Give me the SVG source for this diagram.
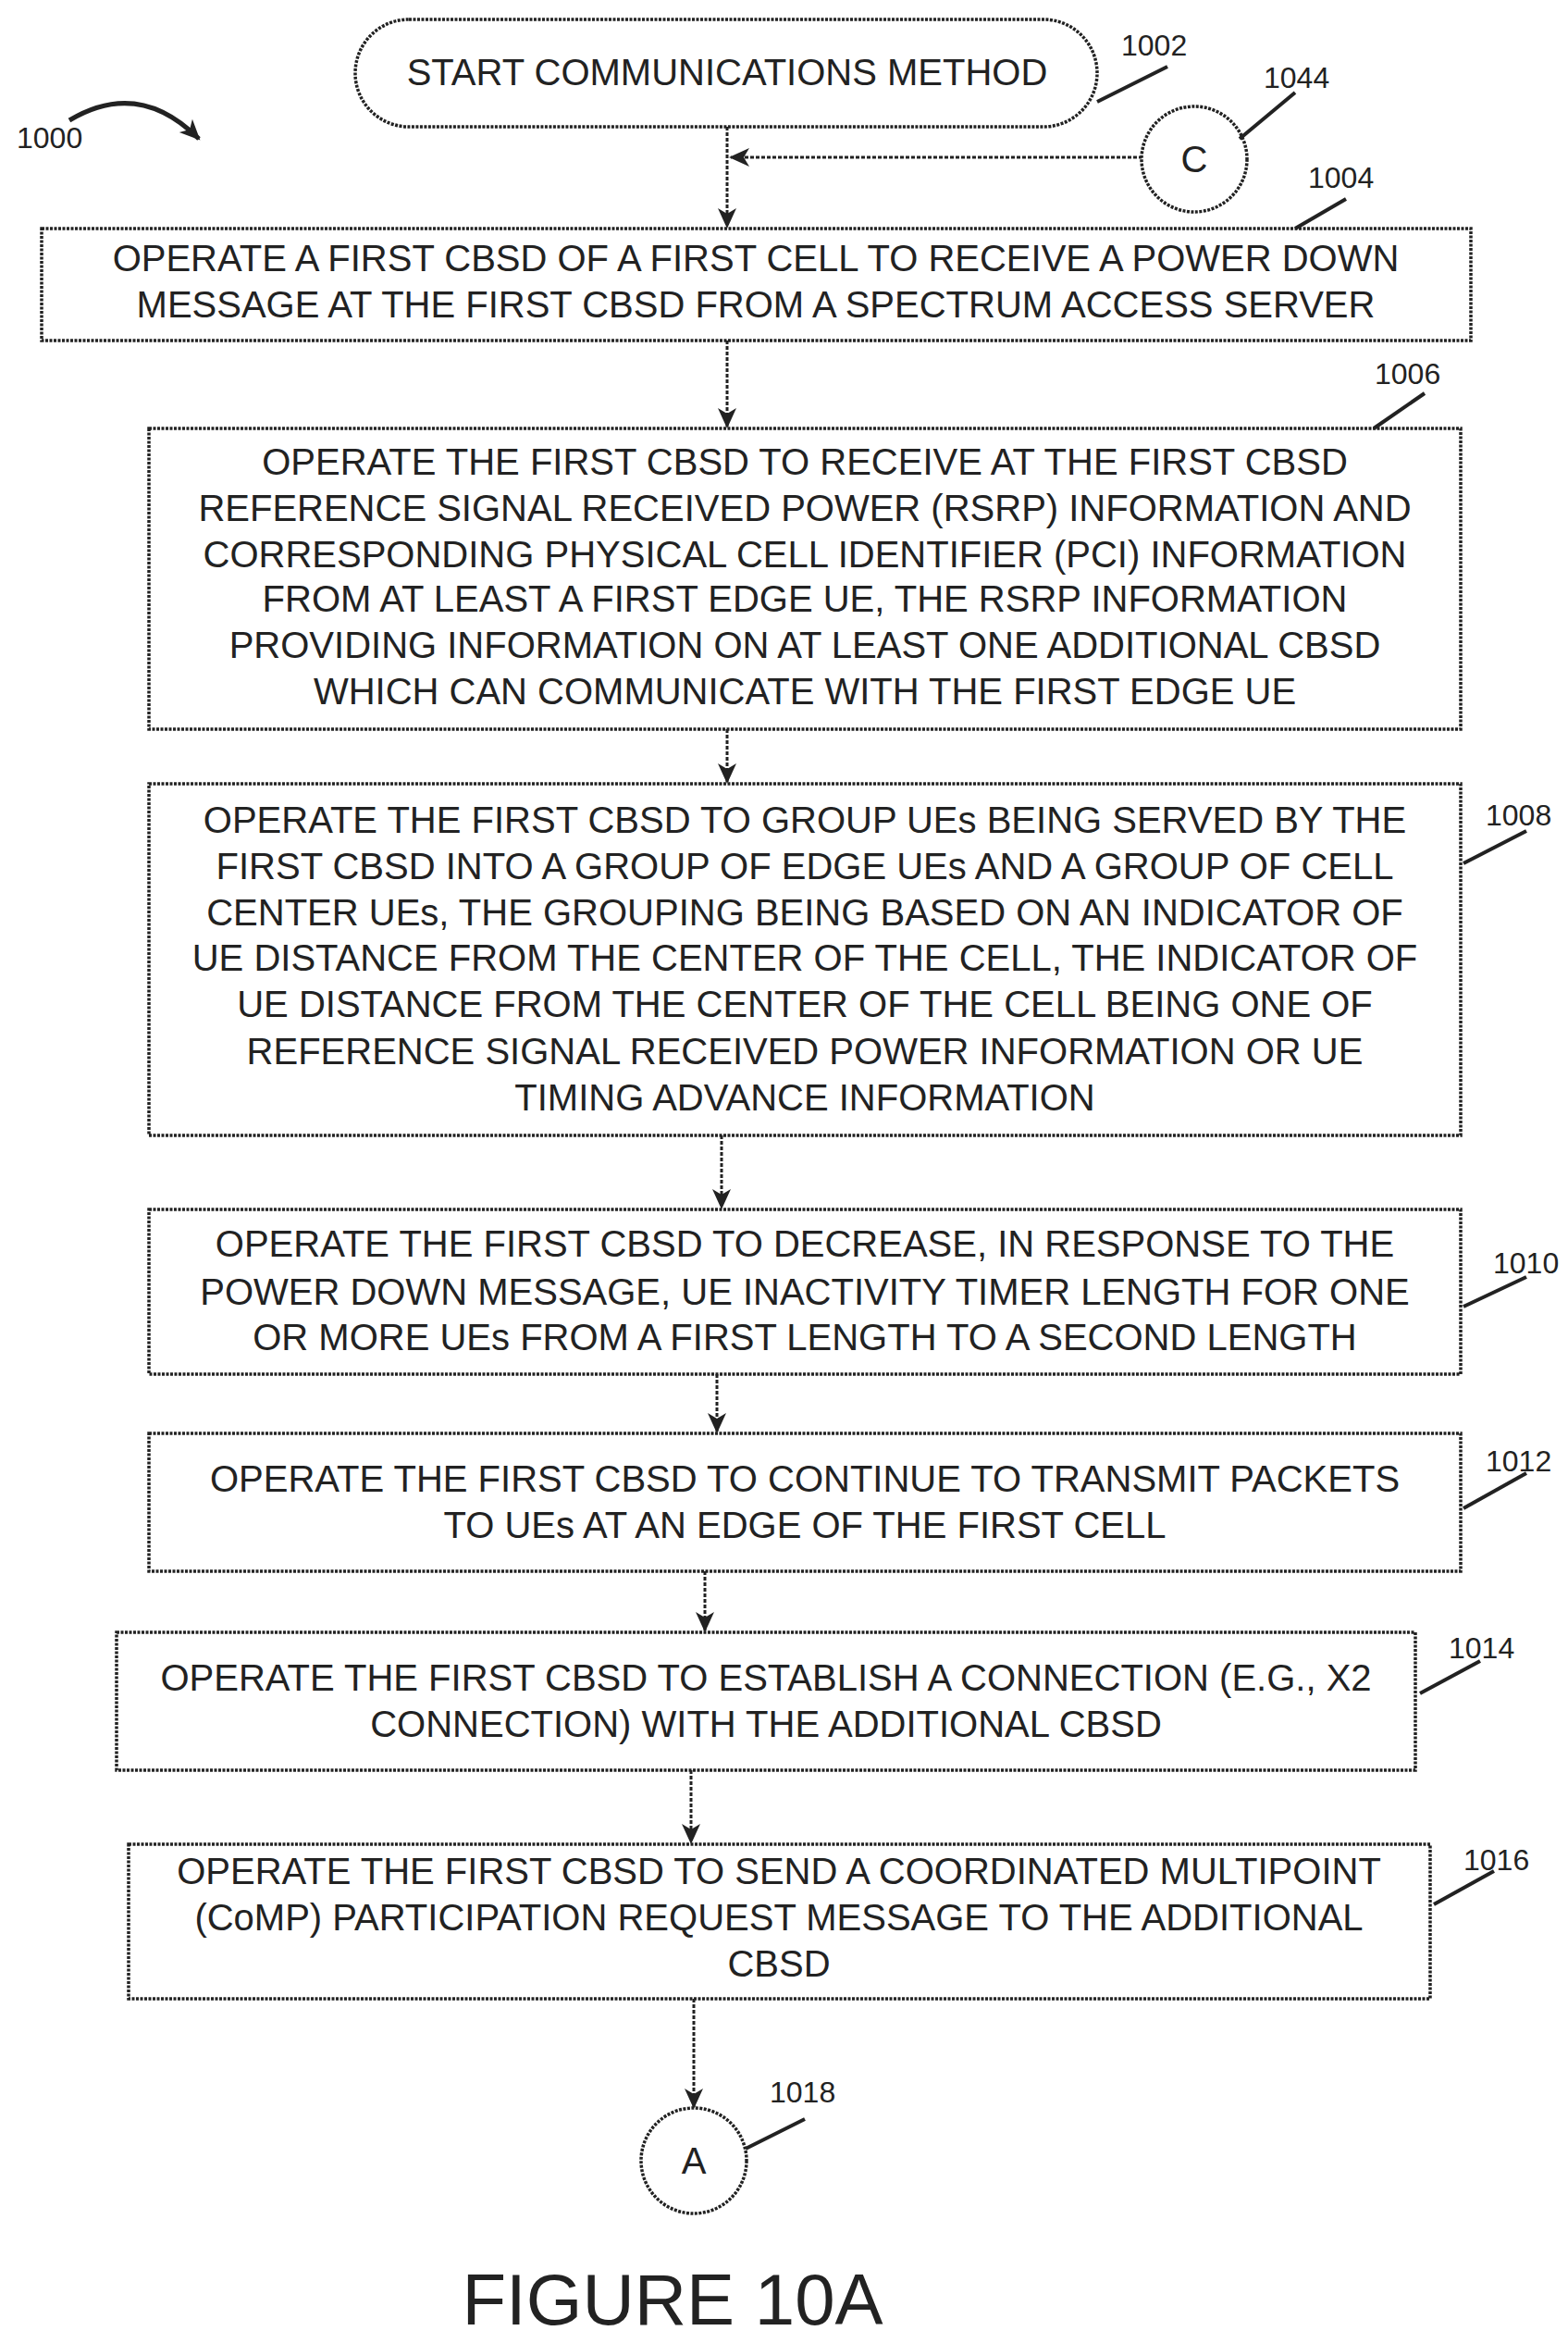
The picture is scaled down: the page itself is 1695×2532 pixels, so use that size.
<svg xmlns="http://www.w3.org/2000/svg" width="1695" height="2532" viewBox="0 0 1695 2532">
<style>
.b{fill:#fff;stroke:#222;stroke-width:3.5;stroke-dasharray:3 1.5}
.t{font-family:"Liberation Sans",Arial,sans-serif;font-size:40px;fill:#222;text-anchor:middle}
.l{font-family:"Liberation Sans",Arial,sans-serif;font-size:32px;fill:#222}
.c{fill:none;stroke:#222;stroke-width:3;stroke-dasharray:4 2}
.ld{fill:none;stroke:#222;stroke-width:4}
</style>
<defs>
<marker id="a2" markerWidth="24" markerHeight="24" refX="20" refY="12" orient="auto" markerUnits="userSpaceOnUse"><path d="M0,2L22,12L0,22L6,12z" fill="#222"/></marker></defs>
<g id="connectors">
<line class="c" x1="786" y1="137" x2="786" y2="245" marker-end="url(#a2)"/>
<line class="c" x1="1235" y1="170" x2="790" y2="170" marker-end="url(#a2)"/>
<line class="c" x1="786" y1="368" x2="786" y2="461" marker-end="url(#a2)"/>
<line class="c" x1="786" y1="788" x2="786" y2="845" marker-end="url(#a2)"/>
<line class="c" x1="780" y1="1227" x2="780" y2="1305" marker-end="url(#a2)"/>
<line class="c" x1="775" y1="1485" x2="775" y2="1547" marker-end="url(#a2)"/>
<line class="c" x1="762" y1="1698" x2="762" y2="1762" marker-end="url(#a2)"/>
<line class="c" x1="747" y1="1913" x2="747" y2="1991" marker-end="url(#a2)"/>
<line class="c" x1="750" y1="2160" x2="750" y2="2277" marker-end="url(#a2)"/>
</g>
<g id="n1000"><text class="l" x="18" y="160">1000</text><path d="M75,130Q150,85 215,150" fill="none" stroke="#222" stroke-width="5" marker-end="url(#a2)"/></g>
<g id="n1002"><rect class="b" x="384" y="21" width="802" height="116" rx="58"/><text class="t" x="786" y="92">START COMMUNICATIONS METHOD</text><text class="l" x="1212" y="60">1002</text><path class="ld" d="M1186,110L1262,72"/></g>
<g id="n1044"><circle class="b" cx="1291" cy="172" r="57"/><text class="t" x="1291" y="186">C</text><text class="l" x="1366" y="95">1044</text><path class="ld" d="M1340,150L1400,100"/></g>
<g id="n1004"><rect class="b" x="45" y="247" width="1545" height="121"/><text class="t" x="817" y="293">OPERATE A FIRST CBSD OF A FIRST CELL TO RECEIVE A POWER DOWN</text><text class="t" x="817" y="343">MESSAGE AT THE FIRST CBSD FROM A SPECTRUM ACCESS SERVER</text><text class="l" x="1414" y="203">1004</text><path class="ld" d="M1400,247L1455,215"/></g>
<g id="n1006"><rect class="b" x="161" y="463" width="1418" height="325"/>
<text class="t" x="870" y="513">OPERATE THE FIRST CBSD TO RECEIVE AT THE FIRST CBSD</text>
<text class="t" x="870" y="563">REFERENCE SIGNAL RECEIVED POWER (RSRP) INFORMATION AND</text>
<text class="t" x="870" y="613">CORRESPONDING PHYSICAL CELL IDENTIFIER (PCI) INFORMATION</text>
<text class="t" x="870" y="661">FROM AT LEAST A FIRST EDGE UE, THE RSRP INFORMATION</text>
<text class="t" x="870" y="711">PROVIDING INFORMATION ON AT LEAST ONE ADDITIONAL CBSD</text>
<text class="t" x="870" y="761">WHICH CAN COMMUNICATE WITH THE FIRST EDGE UE</text>
<text class="l" x="1486" y="415">1006</text><path class="ld" d="M1485,463L1540,425"/></g>
<g id="n1008"><rect class="b" x="161" y="847" width="1418" height="380"/>
<text class="t" x="870" y="900">OPERATE THE FIRST CBSD TO GROUP UEs BEING SERVED BY THE</text>
<text class="t" x="870" y="950">FIRST CBSD INTO A GROUP OF EDGE UEs AND A GROUP OF CELL</text>
<text class="t" x="870" y="1000">CENTER UEs, THE GROUPING BEING BASED ON AN INDICATOR OF</text>
<text class="t" x="870" y="1049">UE DISTANCE FROM THE CENTER OF THE CELL, THE INDICATOR OF</text>
<text class="t" x="870" y="1099">UE DISTANCE FROM THE CENTER OF THE CELL BEING ONE OF</text>
<text class="t" x="870" y="1150">REFERENCE SIGNAL RECEIVED POWER INFORMATION OR UE</text>
<text class="t" x="870" y="1200">TIMING ADVANCE INFORMATION</text>
<text class="l" x="1606" y="892">1008</text><path class="ld" d="M1582,933L1650,898"/></g>
<g id="n1010"><rect class="b" x="161" y="1307" width="1418" height="178"/>
<text class="t" x="870" y="1358">OPERATE THE FIRST CBSD TO DECREASE, IN RESPONSE TO THE</text>
<text class="t" x="870" y="1410">POWER DOWN MESSAGE, UE INACTIVITY TIMER LENGTH FOR ONE</text>
<text class="t" x="870" y="1459">OR MORE UEs FROM A FIRST LENGTH TO A SECOND LENGTH</text>
<text class="l" x="1614" y="1376">1010</text><path class="ld" d="M1582,1412L1650,1380"/></g>
<g id="n1012"><rect class="b" x="161" y="1549" width="1418" height="149"/>
<text class="t" x="870" y="1612">OPERATE THE FIRST CBSD TO CONTINUE TO TRANSMIT PACKETS</text>
<text class="t" x="870" y="1662">TO UEs AT AN EDGE OF THE FIRST CELL</text>
<text class="l" x="1606" y="1590">1012</text><path class="ld" d="M1582,1630L1650,1592"/></g>
<g id="n1014"><rect class="b" x="126" y="1764" width="1404" height="149"/>
<text class="t" x="828" y="1827">OPERATE THE FIRST CBSD TO ESTABLISH A CONNECTION (E.G., X2</text>
<text class="t" x="828" y="1877">CONNECTION) WITH THE ADDITIONAL CBSD</text>
<text class="l" x="1566" y="1792">1014</text><path class="ld" d="M1535,1830L1600,1795"/></g>
<g id="n1016"><rect class="b" x="139" y="1993" width="1407" height="167"/>
<text class="t" x="842" y="2036">OPERATE THE FIRST CBSD TO SEND A COORDINATED MULTIPOINT</text>
<text class="t" x="842" y="2086">(CoMP) PARTICIPATION REQUEST MESSAGE TO THE ADDITIONAL</text>
<text class="t" x="842" y="2136">CBSD</text>
<text class="l" x="1582" y="2021">1016</text><path class="ld" d="M1550,2058L1615,2022"/></g>
<g id="n1018"><circle class="b" cx="750" cy="2335" r="57"/><text class="t" x="750" y="2349">A</text><text class="l" x="832" y="2272">1018</text><path class="ld" d="M806,2322L870,2290"/></g>
<text x="727" y="2512" font-family="Liberation Sans,Arial,sans-serif" font-size="78" fill="#222" text-anchor="middle">FIGURE 10A</text>
</svg>
